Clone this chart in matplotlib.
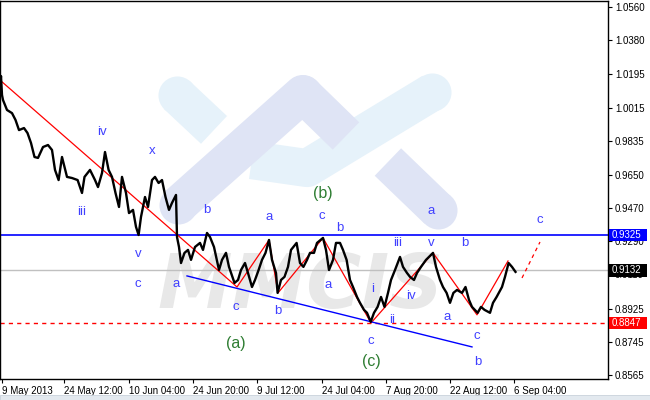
import matplotlib
matplotlib.use("Agg")
import matplotlib.pyplot as plt
from matplotlib.patches import Rectangle
from matplotlib.transforms import blended_transform_factory

# price path (bar index, close)
bars = [0, 1, 2, 3, 7, 12, 15.5, 19, 24, 27.5, 31, 34.5, 38, 43, 48, 52, 55, 58.6, 62, 67,
        72, 77.6, 82, 84.5, 90, 95, 98, 102, 105, 108.6, 112, 115.5, 119, 122, 126, 129, 133,
        136, 138.6, 141, 145, 148, 152, 155, 158.6, 162, 165.5, 169, 172, 176, 177, 179, 181,
        184.5, 188, 191, 195, 200, 203, 207, 210, 214, 219, 222, 226, 229, 234.5, 238, 241,
        245, 248, 252, 255, 258.6, 262, 265.5, 269, 272, 276, 277.6, 281, 284.5, 288, 291,
        296.6, 300, 303.4, 307, 310, 314, 317, 323, 326, 329, 333, 336, 340, 343, 346.6, 350,
        353, 357, 360, 364, 367, 370.7, 374, 377.6, 381, 384.5, 388, 391, 395, 400, 403, 407,
        410, 414, 417, 421, 426, 429, 433, 436, 440, 443, 446.6, 450, 453.4, 457, 462, 465.5,
        469, 472, 477.6, 481, 484.5, 490, 493, 496.6, 502, 505, 508.6, 512, 515.5]
closes = [1.0121, 1.0186, 1.0083, 1.0056, 1.0002, 0.9985, 0.9948, 0.9893, 0.9904, 0.9877,
          0.9823, 0.9747, 0.9742, 0.9801, 0.9812, 0.9785, 0.9677, 0.9622, 0.9747, 0.9639,
          0.9633, 0.9622, 0.9552, 0.9639, 0.9677, 0.9622, 0.9584, 0.9660, 0.9774, 0.9677,
          0.9639, 0.9552, 0.9476, 0.9639, 0.9552, 0.9443, 0.9460, 0.9368, 0.9324, 0.9422,
          0.9530, 0.9476, 0.9622, 0.9639, 0.9606, 0.9622, 0.9530, 0.9460, 0.9498, 0.9541,
          0.9313, 0.9259, 0.9172, 0.9227, 0.9243, 0.9189, 0.9259, 0.9281, 0.9243, 0.9335,
          0.9313, 0.9259, 0.9134, 0.9189, 0.9227, 0.9151, 0.9064, 0.9080, 0.9134, 0.9172,
          0.9118, 0.9042, 0.9080, 0.9134, 0.9189, 0.9227, 0.9297, 0.9189, 0.9118, 0.9010,
          0.9080, 0.9097, 0.9151, 0.9243, 0.9281, 0.9172, 0.9151, 0.9189, 0.9227, 0.9227,
          0.9281, 0.9308, 0.9243, 0.9134, 0.9189, 0.9281, 0.9281, 0.9243, 0.9189, 0.9080,
          0.9042, 0.8988, 0.8956, 0.8918, 0.8902, 0.8853, 0.8902, 0.8934, 0.8988, 0.8934,
          0.9010, 0.9080, 0.9134, 0.9205, 0.9151, 0.9118, 0.9097, 0.9080, 0.9118, 0.9151,
          0.9189, 0.9205, 0.9227, 0.9151, 0.9080, 0.9042, 0.9010, 0.8956, 0.9010, 0.9026,
          0.9010, 0.9042, 0.8972, 0.8934, 0.8902, 0.8934, 0.8918, 0.8902, 0.8956, 0.8988,
          0.9042, 0.9097, 0.9172, 0.9151, 0.9124]

# wave zigzag (red), projection and lower trend line (blue)
zig_bars = [0, 237, 269, 278, 323, 371, 433, 477, 508]
zig_prices = [1.0164, 0.9042, 0.9297, 0.9010, 0.9308, 0.8847, 0.9227, 0.8891, 0.9183]
proj_bars = [522, 540]
proj_prices = [0.9091, 0.9286]
trend_bars = [187, 472]
trend_prices = [0.9102, 0.8717]

# horizontal levels
level_blue = 0.9325
level_gray = 0.9132
level_red = 0.8847

# wave labels
wave_text = ["iv", "x", "iii", "v", "c", "b", "a", "c", "a", "b", "c", "b", "a", "i", "ii",
             "iii", "v", "iv", "b", "a", "c", "a", "c", "c", "b"]
wave_bar = [102, 152, 82, 138, 138, 207, 176, 236, 269, 278, 322, 340, 328, 373, 392,
            398, 431, 411, 465, 447, 477, 431, 540, 371, 478]
wave_price = [0.9883, 0.9780, 0.9449, 0.9221, 0.9059, 0.9460, 0.9059, 0.8934, 0.9422, 0.8912,
              0.9427, 0.9362, 0.9053, 0.9032, 0.8864, 0.9281, 0.9281, 0.8994, 0.9281, 0.8880,
              0.8777, 0.9454, 0.9406, 0.8750, 0.8636]
big_text = ["(a)", "(b)", "(c)"]
big_bar = [236, 323, 371]
big_price = [0.8734, 0.9547, 0.8636]

# axes ticks
ytick_values = [1.0560, 1.0380, 1.0195, 1.0015, 0.9835, 0.9650, 0.9470, 0.9290, 0.9110,
                0.8925, 0.8745, 0.8565]
xtick_bars = [2, 64, 129, 193, 257, 322, 386, 450, 514]
xtick_labels = ["9 May 2013", "24 May 12:00", "10 Jun 04:00", "24 Jun 20:00", "9 Jul 12:00",
                "24 Jul 04:00", "7 Aug 20:00", "22 Aug 12:00", "6 Sep 04:00"]

fig = plt.figure(figsize=(6.5, 4), dpi=100)
ax = fig.add_axes([0, 21 / 400, 608 / 650, 378 / 400])
ax.set_xlim(0, 608)
ax.set_ylim(0.8543, 1.0593)

# watermark (logo bands + letters), in axes fraction
light_blue = "#e6f2fa"
lavender = "#dfe4f5"
bw = 27.4


def band(xs, ys, color, round_start=False, round_end=False):
    ax.plot(xs, ys, color=color, lw=bw, solid_capstyle="butt", solid_joinstyle="round",
            transform=ax.transAxes, zorder=0)
    if round_start:
        ax.plot(xs[0], ys[0], "o", ms=bw, color=color, mec="none", transform=ax.transAxes, zorder=0)
    if round_end:
        ax.plot(xs[-1], ys[-1], "o", ms=bw, color=color, mec="none", transform=ax.transAxes, zorder=0)


band([0.291, 0.352], [0.751, 0.659], light_blue, round_start=True)
band([0.414, 0.505, 0.711], [0.579, 0.558, 0.759], light_blue, round_end=True)
band([0.293, 0.498, 0.569], [0.460, 0.754, 0.643], lavender, round_start=True)
band([0.498], [0.754], lavender, round_start=True)
band([0.638, 0.720], [0.574, 0.447], lavender, round_end=True)
ax.text(0.495, 0.243, "MMCIS", transform=ax.transAxes, fontsize=54, fontstyle="italic",
        fontweight="bold", color="#e8e8e8", ha="center", va="center", zorder=0)

# levels
ax.axhline(level_blue, color="#0000ff", lw=1.2, zorder=2)
ax.axhline(level_gray, color="#c0c0c0", lw=1.0, zorder=2)
ax.axhline(level_red, color="#ff0000", lw=1.0, ls=(0, (3, 3)), zorder=2)

# wave lines
ax.plot(zig_bars, zig_prices, color="#ff0000", lw=0.9, zorder=3)
ax.plot(proj_bars, proj_prices, color="#ff0000", lw=0.9, ls=(0, (3, 3)), zorder=3)
ax.plot(trend_bars, trend_prices, color="#0000ff", lw=1.0, zorder=3)

# price
ax.plot(bars, closes, color="black", lw=1.7, zorder=4)

# labels
for t, b, p in zip(wave_text, wave_bar, wave_price):
    ax.text(b, p, t, color="#4040ff", fontsize=9.5, ha="center", va="center",
            family="Liberation Sans", zorder=5)
for t, b, p in zip(big_text, big_bar, big_price):
    ax.text(b, p, t, color="#2e7d32", fontsize=11.5, ha="center", va="center",
            family="Liberation Sans", zorder=5)

# axes
for s in ax.spines.values():
    s.set_color("black")
    s.set_linewidth(1.0)
ax.yaxis.tick_right()
ax.set_yticks(ytick_values)
ax.set_yticklabels([f"{v:.4f}" for v in ytick_values])
ax.set_xticks(xtick_bars)
ax.set_xticklabels(xtick_labels)
ax.tick_params(axis="both", direction="out", length=3, width=0.8, labelsize=7, pad=2,
               colors="black")
for lab in ax.get_xticklabels() + ax.get_yticklabels():
    lab.set_family("Liberation Sans")
for lab in ax.get_xticklabels():
    lab.set_ha("left")

# price markers on the right axis
tr = blended_transform_factory(ax.transAxes, ax.transData)
for val, col in [(level_blue, "#0000ff"), (level_gray, "#000000"), (level_red, "#ff0000")]:
    ax.add_patch(Rectangle((1.002, val - 0.00335), 0.0625, 0.0067, transform=tr,
                           facecolor=col, edgecolor="none", clip_on=False, zorder=6))
    ax.text(1.0066, val, f"{val:.4f}", transform=tr, color="white", fontsize=7,
            family="Liberation Sans", va="center", ha="left", clip_on=False, zorder=7)

# window frame strip at the bottom
fig.patches.append(Rectangle((0, 0), 1, 5 / 400, transform=fig.transFigure,
                             facecolor="#e3e9ef", edgecolor="#c9d2db", lw=0.6))

fig.savefig("out.png", dpi=100)
